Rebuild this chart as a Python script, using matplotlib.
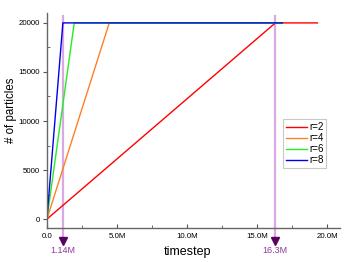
import matplotlib
matplotlib.use("Agg")
import matplotlib.pyplot as plt
from matplotlib.ticker import FuncFormatter, MultipleLocator

plt.rcParams["font.family"] = ["Liberation Sans", "DejaVu Sans"]

labels = ["r=2", "r=4", "r=6", "r=8"]
colors = ["#ff0000", "#ff7f27", "#22ee22", "#0000ee"]
t_full = [16.3e6, 4.45e6, 1.95e6, 1.14e6]   # timestep at which 20000 particles reached
t_end = [19.3e6, 16.8e6, 16.8e6, 16.8e6]    # last timestep of series
n_max = 20000
marks = [1.14e6, 16.3e6]
mark_labels = ["1.14M", "16.3M"]

fig = plt.figure(figsize=(3.5, 2.62), dpi=100)
ax = fig.add_axes([0.134, 0.130, 0.837, 0.820])

for lab, c, tf, te in zip(labels, colors, t_full, t_end):
    ax.plot([0, tf, te], [0, n_max, n_max], color=c, lw=1.0, label=lab)

for m, ml in zip(marks, mark_labels):
    ax.axvline(m, ymin=-0.04, ymax=0.985, color="#d9a9e3", lw=1.6, clip_on=False, zorder=0)
    ax.plot([m], [-0.06], transform=ax.get_xaxis_transform(), marker="v", ms=6,
            color="#5c0060", clip_on=False, zorder=5)
    ax.text(m, -0.105, ml, transform=ax.get_xaxis_transform(), ha="center", va="center",
            fontsize=6.5, color="#8e3a9e")

ax.set_xlim(0, 20.9e6)
ax.set_ylim(-900, 21000)
ax.xaxis.set_major_locator(MultipleLocator(5e6))
ax.xaxis.set_minor_locator(MultipleLocator(2.5e6))
ax.yaxis.set_major_locator(MultipleLocator(5000))
ax.yaxis.set_minor_locator(MultipleLocator(2500))
ax.xaxis.set_major_formatter(FuncFormatter(lambda v, p: "0.0" if v == 0 else f"{v/1e6:.1f}M"))
ax.tick_params(axis="x", which="both", direction="in", labelsize=5.7, pad=4, color="#555555")
ax.tick_params(axis="x", which="major", length=3)
ax.tick_params(axis="x", which="minor", length=2)
ax.tick_params(axis="y", which="major", direction="out", length=3, labelsize=5.7, pad=2,
               color="#555555")
ax.tick_params(axis="y", which="minor", direction="in", length=2, color="#555555")

for s in ["top", "right"]:
    ax.spines[s].set_visible(False)
for s in ["left", "bottom"]:
    ax.spines[s].set_color("#666666")
    ax.spines[s].set_linewidth(1.0)

ax.set_xlabel("timestep", fontsize=9)
ax.xaxis.set_label_coords(0.481, -0.084)
ax.set_ylabel("# of particles", fontsize=8.3)
ax.yaxis.set_label_coords(-0.102, 0.549)

leg = ax.legend(loc="upper left", bbox_to_anchor=(0.805, 0.505), fontsize=7, frameon=True,
                fancybox=False, edgecolor="#bbbbbb", handlelength=2.2, handletextpad=0.2,
                labelspacing=0.1, borderpad=0.3, borderaxespad=0)
leg.get_frame().set_linewidth(0.8)

fig.savefig("out.png", dpi=100)
